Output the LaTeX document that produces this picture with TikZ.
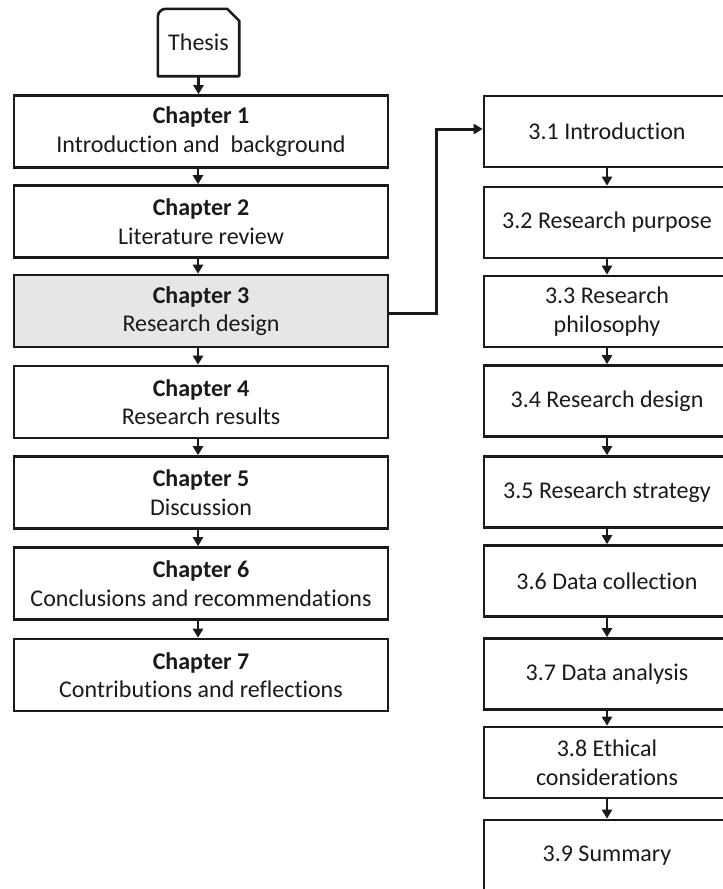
\documentclass[tikz,border=0pt]{standalone}
\usepackage{fontspec}
\setmainfont{Carlito}[Ligatures=NoCommon]
\usetikzlibrary{arrows.meta,calc}
\definecolor{inkc}{HTML}{1A1A1A}
\definecolor{hilite}{HTML}{E6E6E6}

\begin{document}
\begin{tikzpicture}[x=1bp,y=1bp,
  txt/.style={font=\fontsize{24bp}{28.5bp}\selectfont, text=inkc, align=center, inner sep=0pt},
  chapbox/.style={txt, draw=inkc, line width=2.6bp, minimum width=374bp, minimum height=72bp},
  secbox/.style={txt, draw=inkc, line width=2.6bp, minimum width=246bp, minimum height=71bp},
  flow/.style={draw=inkc, line width=2.5bp, -{Triangle[width=10bp,length=9bp]}}
]
\useasboundingbox (0,0) rectangle (723,-889);
\begin{scope}
\clip (0,0) rectangle (723,-889);

% document root
\node[txt, minimum width=81bp, minimum height=67bp] (thesis) at (198.5,-42.5) {Thesis};
\draw[inkc, line width=2.6bp, line join=round]
  (thesis.south west) -- ($(thesis.north west)+(0,-8)$) arc[start angle=180, end angle=90, radius=8]
  -- ($(thesis.north east)+(-12,0)$) -- ($(thesis.north east)+(0,-12)$)
  -- (thesis.south east) -- cycle;

% chapters
\node[chapbox] (c1) at (201,-131.5) {\textbf{Chapter 1}\\Introduction and\ \ background};
\node[chapbox] (c2) at (201,-221.5) {\textbf{Chapter 2}\\Literature review};
\node[chapbox, fill=hilite] (c3) at (201,-311) {\textbf{Chapter 3}\\Research design};
\node[chapbox] (c4) at (201,-402) {\textbf{Chapter 4}\\Research results};
\node[chapbox] (c5) at (201,-492.5) {\textbf{Chapter 5}\\Discussion};
\node[chapbox] (c6) at (201,-583.5) {\textbf{Chapter 6}\\Conclusions and recommendations};
\node[chapbox] (c7) at (201,-675) {\textbf{Chapter 7}\\Contributions and reflections};

% sections of chapter 3
\node[secbox] (s1) at (607,-131.5) {3.1 Introduction};
\node[secbox] (s2) at (607,-222.5) {3.2 Research purpose};
\node[secbox] (s3) at (607,-311.5) {3.3 Research\\philosophy};
\node[secbox] (s4) at (607,-401) {3.4 Research design};
\node[secbox] (s5) at (607,-492) {3.5 Research strategy};
\node[secbox] (s6) at (607,-581) {3.6 Data collection};
\node[secbox] (s7) at (607,-674) {3.7 Data analysis};
\node[secbox] (s8) at (607,-762.5) {3.8 Ethical\\considerations};
\node[secbox] (s9) at (607,-855.5) {3.9 Summary};

% chapter flow
\draw[flow] (thesis.south) -- (thesis.south |- c1.north);
\foreach \a/\b in {c1/c2,c2/c3,c3/c4,c4/c5,c5/c6,c6/c7}
  \draw[flow] ([xshift=-3bp]\a.south) -- ([xshift=-3bp]\b.north);

% section flow
\foreach \a/\b in {s1/s2,s2/s3,s3/s4,s4/s5,s5/s6,s6/s7,s7/s8,s8/s9}
  \draw[flow] (\a.south) -- (\b.north);

% expansion of chapter 3
\coordinate (elbow) at (436,-129);
\draw[flow, line width=3bp, line join=miter] ($(c3.east)+(0,-2)$) -| (elbow) -- (elbow -| s1.west);
\end{scope}
\end{tikzpicture}
\end{document}
